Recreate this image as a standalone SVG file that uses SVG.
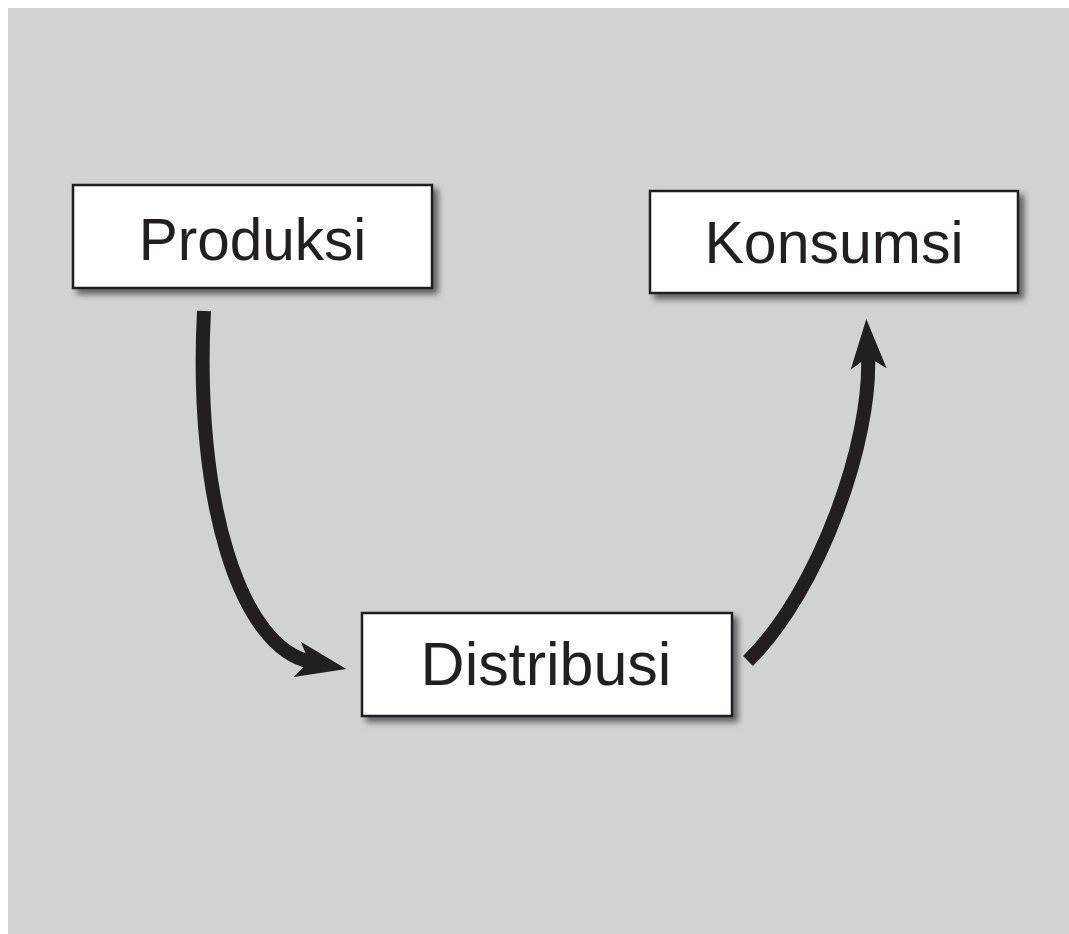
<svg xmlns="http://www.w3.org/2000/svg" width="1069" height="934" viewBox="0 0 1069 934">
  <style>
    .box { fill: #ffffff; stroke: #231f20; stroke-width: 2.5; filter: url(#shadow); }
    .label { font-family: "Liberation Sans", Arial, sans-serif; font-size: 58.5px; fill: #231f20; text-anchor: middle; }
    .conn { fill: none; stroke: #231f20; stroke-width: 14; stroke-linecap: butt; marker-end: url(#head); }
  </style>
  <defs>
    <filter id="shadow" x="-10%" y="-20%" width="130%" height="150%">
      <feDropShadow dx="5" dy="5" stdDeviation="3" flood-color="#000000" flood-opacity="0.55"/>
    </filter>
    <marker id="head" markerUnits="userSpaceOnUse" orient="auto" refX="14" refY="18" markerWidth="60" markerHeight="40" overflow="visible">
      <path d="M50,18 L0,0 L12,18 L0,36 Z" fill="#231f20"/>
    </marker>
  </defs>
  <rect x="8" y="8" width="1061" height="926" fill="#d1d2d4"/>
  <g id="connectors">
    <path class="conn" d="M204,311 C194,500 240,648 311,662"/>
    <path class="conn" d="M748,661 C820,590 872,440 868,355"/>
  </g>
  <g id="node-produksi">
    <rect class="box" x="73" y="185" width="359" height="103"/>
    <text class="label" x="252.5" y="260">Produksi</text>
  </g>
  <g id="node-konsumsi">
    <rect class="box" x="650" y="191" width="368" height="102"/>
    <text class="label" x="834" y="263" style="font-size:59px">Konsumsi</text>
  </g>
  <g id="node-distribusi">
    <rect class="box" x="362" y="613" width="370" height="103"/>
    <text class="label" x="546" y="685" style="font-size:61px">Distribusi</text>
  </g>
</svg>
